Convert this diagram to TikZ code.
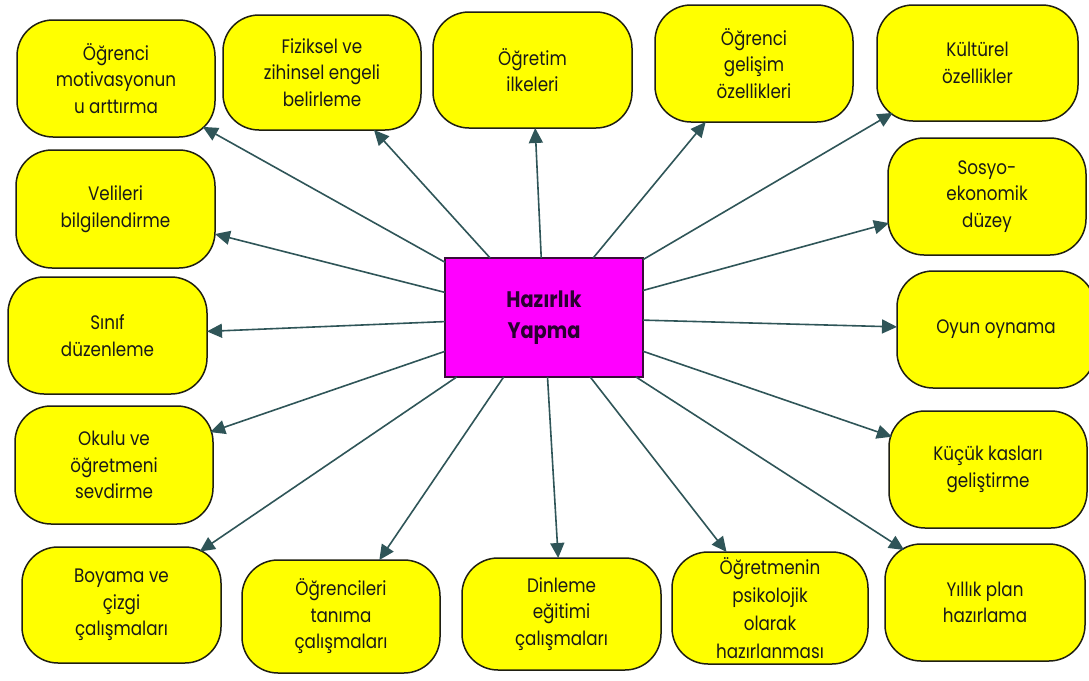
\documentclass[tikz,border=0pt]{standalone}
\usepackage{fontspec}
\setmainfont{Poppins}[FakeStretch=0.86]
\usetikzlibrary{arrows.meta}
\definecolor{boxfill}{HTML}{FFFF00}
\definecolor{boxline}{HTML}{1F1F12}
\definecolor{hubfill}{HTML}{FF00FF}
\definecolor{hubline}{HTML}{3A0A3A}
\definecolor{hubtext}{HTML}{2A0030}
\definecolor{linkcol}{HTML}{2F5558}
\begin{document}
\begin{tikzpicture}[x=1pt,y=-1pt,
  topic/.style={draw=boxline, line width=1.5pt, fill=boxfill, rounded corners=36pt,
    minimum width=198pt, minimum height=116pt, align=center, inner sep=0pt, outer sep=0pt,
    font=\fontsize{19.5}{26.5}\selectfont, text=black!90},
  hub/.style={draw=hubline, line width=1.5pt, fill=hubfill, minimum width=198pt,
    minimum height=119pt, align=center, inner sep=0pt, outer sep=0pt,
    font=\bfseries\fontsize{22.5}{31}\selectfont, text=hubtext},
  link/.style={draw=linkcol, line width=1.6pt, -{Triangle[length=15pt,width=14pt]}}
]
\useasboundingbox (0,0) rectangle (1089,680);
\fill[white] (0,0) rectangle (1089,680);

% central node
\node[hub] (hub) at (544,317.5) {Hazırlık\\Yapma};

% top row
\node[topic, minimum height=117pt] (mot) at (116,78.5) {Öğrenci\\motivasyonun\\u arttırma};
\node[topic, minimum height=115pt] (fiz) at (322,72.5) {Fiziksel ve\\zihinsel engeli\\belirleme};
\node[topic, minimum width=199pt] (ilk) at (532.5,70) {Öğretim\\ilkeleri};
\node[topic, minimum height=117pt] (gel) at (754,63.5) {Öğrenci\\gelişim\\özellikleri};
\node[topic, minimum width=201pt] (kul) at (977.5,63) {Kültürel\\özellikler};

% right column
\node[topic, minimum height=117pt] (sos) at (987,196.5) {Sosyo-\\ekonomik\\düzey};
\node[topic, minimum height=117pt] (oyn) at (996,329.5) {Oyun oynama};
\node[topic, minimum height=117pt] (kuc) at (988,469.5) {Küçük kasları\\geliştirme};
\node[topic, minimum width=200pt, minimum height=117pt] (yil) at (985,602.5) {Yıllık plan\\hazırlama};

% bottom row
\node[topic, minimum width=196pt, minimum height=112pt, font=\fontsize{19.5}{28}\selectfont] (psi) at (770,608) {Öğretmenin\\psikolojik\\olarak\\hazırlanması};
\node[topic, minimum width=199pt, minimum height=112pt] (din) at (561.5,614) {Dinleme\\eğitimi\\çalışmaları};
\node[topic, minimum height=113pt] (tan) at (341,616.5) {Öğrencileri\\tanıma\\çalışmaları};
\node[topic, minimum width=199pt] (boy) at (121.5,605) {Boyama ve\\çizgi\\çalışmaları};

% left column
\node[topic, minimum height=118pt] (oku) at (114,465) {Okulu ve\\öğretmeni\\sevdirme};
\node[topic, minimum width=199pt, minimum height=117pt] (sin) at (107.5,335.5) {Sınıf\\düzenleme};
\node[topic, minimum width=199pt, minimum height=118pt] (vel) at (115.5,209) {Velileri\\bilgilendirme};

% connectors radiating from the centre
\draw[link, shorten >=-14pt] (hub) -- (mot);
\draw[link] (hub) -- (fiz);
\draw[link] (hub) -- (ilk);
\draw[link] (hub) -- (gel);
\draw[link, shorten >=-16pt] (hub) -- (kul);
\draw[link, shorten >=-1pt] (hub) -- (sos);
\draw[link] (hub) -- (oyn);
\draw[link, shorten >=-3pt] (hub) -- (kuc);
\draw[link, shorten >=-11pt] (hub) -- (yil);
\draw[link] (hub) -- (psi);
\draw[link] (hub) -- (din);
\draw[link] (hub) -- (tan);
\draw[link, shorten >=-8pt] (hub) -- (boy);
\draw[link, shorten >=-3pt] (hub) -- (oku);
\draw[link] (hub) -- (sin);
\draw[link] (hub) -- (vel);
\end{tikzpicture}
\end{document}
